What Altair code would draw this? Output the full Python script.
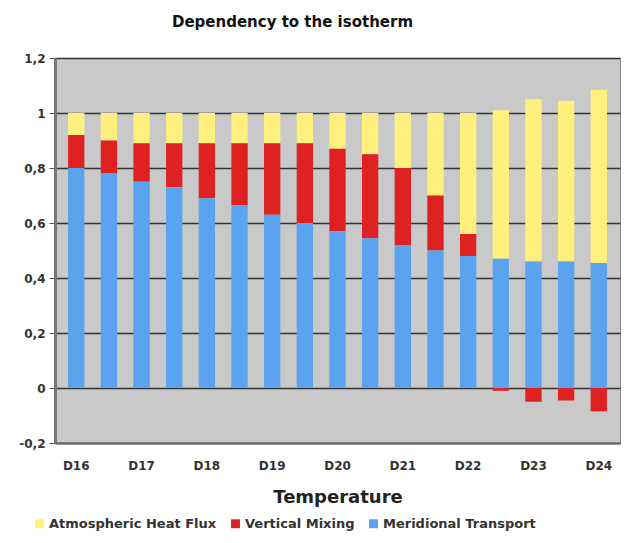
import altair as alt
import pandas as pd

temps = [16, 16.5, 17, 17.5, 18, 18.5, 19, 19.5, 20, 20.5, 21, 21.5, 22, 22.5, 23, 23.5, 24]
meridional = [0.80, 0.78, 0.75, 0.73, 0.69, 0.665, 0.63, 0.60, 0.57, 0.545, 0.52, 0.50, 0.48, 0.47, 0.46, 0.46, 0.455]
vertical = [0.12, 0.12, 0.14, 0.16, 0.20, 0.225, 0.26, 0.29, 0.30, 0.305, 0.28, 0.20, 0.08, -0.01, -0.05, -0.045, -0.085]
atmospheric = [0.08, 0.10, 0.11, 0.11, 0.11, 0.11, 0.11, 0.11, 0.13, 0.15, 0.20, 0.30, 0.44, 0.54, 0.59, 0.585, 0.63]

series_names = ["Atmospheric Heat Flux", "Vertical Mixing", "Meridional Transport"]
series_colors = ["#FFF07E", "#DE2222", "#5AA3EE"]
stack_rank = {"Meridional Transport": 0, "Vertical Mixing": 1, "Atmospheric Heat Flux": 2}

rows = []
for name, vals in zip(series_names, [atmospheric, vertical, meridional]):
    for t, v in zip(temps, vals):
        rows.append({"temp": t, "series": name, "value": v, "rank": stack_rank[name]})
df = pd.DataFrame(rows)

y_ticks = [-0.2, 0, 0.2, 0.4, 0.6, 0.8, 1.0, 1.2]

chart = alt.Chart(df).mark_bar().encode(
    x=alt.X("temp:O", sort=temps,
            scale=alt.Scale(paddingInner=0.5, paddingOuter=0.4),
            axis=alt.Axis(title="Temperature", labelAngle=0, ticks=False,
                          labelExpr="datum.value % 1 == 0 ? 'D' + datum.value : ''",
                          labelFont="DejaVu Sans", labelFontWeight="bold", labelFontSize=12,
                          labelColor="#333333", labelPadding=17,
                          titleFont="DejaVu Sans", titleFontWeight="bold", titleFontSize=18,
                          titleColor="#222222", titlePadding=17,
                          domainColor="#666666", domainWidth=2)),
    y=alt.Y("value:Q", stack="zero",
            scale=alt.Scale(domain=[-0.2, 1.2], nice=False),
            axis=alt.Axis(title=None, values=y_ticks,
                          labelExpr="replace(replace(format(datum.value, '.1~f'), '.', ','), '\u2212', '-')",
                          labelFont="DejaVu Sans", labelFontWeight="bold", labelFontSize=12,
                          labelColor="#333333", labelPadding=4, tickSize=6,
                          tickColor="#555555", domainColor="#777777", domainWidth=3,
                          gridColor="#333333", gridWidth=1.5)),
    color=alt.Color("series:N", scale=alt.Scale(domain=series_names, range=series_colors),
                    legend=alt.Legend(title=None, orient="none", direction="horizontal",
                                      legendX=-22, legendY=459, symbolType="square",
                                      symbolSize=80, symbolStrokeWidth=0,
                                      labelFont="DejaVu Sans", labelFontWeight="bold",
                                      labelFontSize=13, labelColor="#333333",
                                      labelLimit=300, columnPadding=12, labelOffset=3)),
    order=alt.Order("rank:Q", sort="ascending"),
).properties(
    width=565, height=385,
    title=alt.TitleParams("Dependency to the isotherm", font="DejaVu Sans", fontWeight="bold",
                          fontSize=15, color="#111111", anchor="middle", dx=-45, offset=22),
    autosize=alt.AutoSizeParams(type="none"),
    padding={"left": 47, "top": 50, "right": 4, "bottom": 92},
).configure_view(
    fill="#C9C9C9", stroke="#888888", strokeWidth=1
)

chart.save("out.html", embed_options={"renderer": "svg", "actions": False})
